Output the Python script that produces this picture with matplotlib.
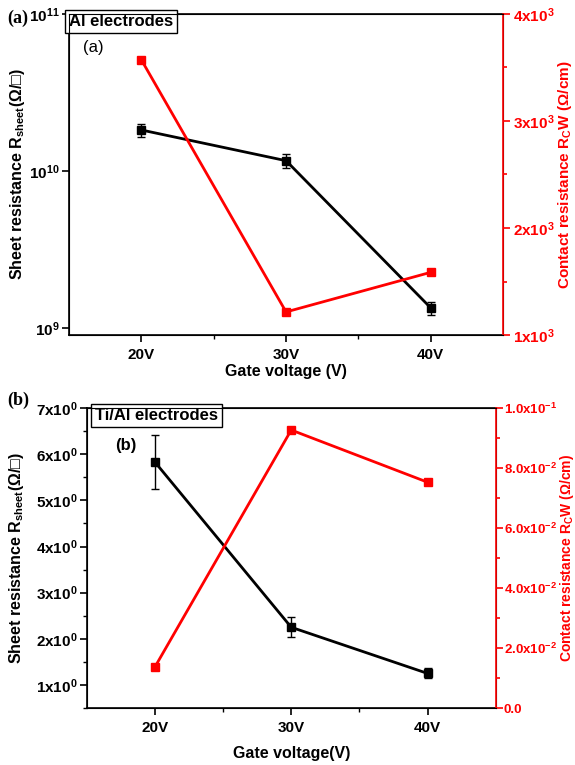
import matplotlib
matplotlib.use("Agg")
import matplotlib.pyplot as plt
from matplotlib.ticker import FixedLocator, MultipleLocator

plt.rcParams["font.family"] = ["Liberation Sans", "DejaVu Sans"]
plt.rcParams["font.weight"] = "bold"
plt.rcParams["mathtext.default"] = "regular"

# gate voltages (V)
gate_v = [20, 30, 40]
gate_labels = ["20V", "30V", "40V"]

# (a) Al electrodes
al_sheet = [1.82e10, 1.16e10, 1.34e9]
al_sheet_err = [0.18e10, 0.12e10, 0.13e9]
al_contact = [3570, 1216, 1586]

# (b) Ti/Al electrodes
tial_sheet = [5.83, 2.25, 1.25]
tial_sheet_err = [0.58, 0.22, 0.11]
tial_contact = [0.0137, 0.0927, 0.0753]

fig = plt.figure(figsize=(5.75, 7.65), dpi=100)
RED = "#ff0000"


def style_axes(ax, ax2, rsize=11, rpad=2):
    ax.set_xlim(15, 45)
    ax.set_xticks(gate_v)
    ax.set_xticklabels(gate_labels)
    ax.xaxis.set_minor_locator(FixedLocator([25, 35]))
    ax.tick_params(axis="x", which="major", direction="out", length=5, width=1.2, labelsize=11, pad=4)
    ax.tick_params(axis="x", which="minor", direction="out", length=3, width=1)
    ax.tick_params(axis="y", which="major", direction="out", length=5, width=1.2, labelsize=11, pad=2)
    ax.tick_params(axis="y", which="minor", direction="out", length=3, width=1)
    for lab in ax.get_xticklabels() + ax.get_yticklabels():
        lab.set_fontweight("bold")
    for s in ["left", "bottom", "top"]:
        ax.spines[s].set_linewidth(1.2)
    ax2.spines["right"].set_color(RED)
    ax2.spines["right"].set_linewidth(1.2)
    ax2.tick_params(axis="y", which="both", colors=RED, direction="out", width=1.2,
                    labelsize=rsize, pad=rpad)
    ax2.tick_params(axis="y", which="major", length=5)
    ax2.tick_params(axis="y", which="minor", length=3)
    for lab in ax2.get_yticklabels():
        lab.set_fontweight("bold")


# ---- panel (a) ----
ax = fig.add_axes([0.12, 0.562, 0.755, 0.42])
ax2 = ax.twinx()
ax.set_yscale("log")
ax.set_ylim(9e8, 1e11)
ax.yaxis.set_major_locator(FixedLocator([1e9, 1e10, 1e11]))
ax.yaxis.set_minor_locator(FixedLocator([]))
ax.set_yticklabels([r"$10^{9}$", r"$10^{10}$", r"$10^{11}$"])
ax.errorbar(gate_v, al_sheet, yerr=al_sheet_err, color="black", marker="s", ms=6,
            lw=2, capsize=3, elinewidth=1, zorder=3)
ax2.plot(gate_v, al_contact, color=RED, marker="s", ms=6, lw=2)
ax2.set_ylim(1000, 4000)
ax2.yaxis.set_minor_locator(MultipleLocator(500))
ax2.set_yticks([1000, 2000, 3000, 4000])
ax2.set_yticklabels([r"$1x10^{3}$", r"$2x10^{3}$", r"$3x10^{3}$", r"$4x10^{3}$"])
style_axes(ax, ax2)
ax.set_xlabel("Gate voltage (V)", fontsize=11.5, fontweight="bold", labelpad=2)
ax.set_ylabel(r"Sheet resistance R$_{sheet}$($\Omega$/□)", fontsize=11.5, fontweight="bold")
ax.yaxis.set_label_coords(-0.097, 0.5)
ax2.set_ylabel(r"Contact resistance R$_{C}$W ($\Omega$/cm)", fontsize=11, fontweight="bold",
               color=RED)
ax2.yaxis.set_label_coords(1.122, 0.5)
ax.text(0.0, 1.0, "Al electrodes", transform=ax.transAxes, fontsize=12, fontweight="bold",
        ha="left", va="top",
        bbox=dict(boxstyle="square,pad=0.25", fc="white", ec="black", lw=1))
ax.text(0.033, 0.895, "(a)", transform=ax.transAxes, fontsize=12, fontweight="normal",
        ha="left", va="center")
fig.text(0.012, 0.976, "(a)", fontsize=13, fontweight="bold", family="Liberation Serif",
         ha="left", va="center")

# ---- panel (b) ----
bx = fig.add_axes([0.151, 0.0745, 0.711, 0.392])
bx2 = bx.twinx()
bx.set_ylim(0.5, 7)
bx.yaxis.set_minor_locator(MultipleLocator(0.5))
bx.set_yticks([1, 2, 3, 4, 5, 6, 7])
bx.set_yticklabels([r"$%dx10^{0}$" % v for v in range(1, 8)])
bx.errorbar(gate_v, tial_sheet, yerr=tial_sheet_err, color="black", marker="s", ms=6,
            lw=2, capsize=3, elinewidth=1, zorder=3)
bx2.plot(gate_v, tial_contact, color=RED, marker="s", ms=6, lw=2)
bx2.set_ylim(0, 0.1)
bx2.yaxis.set_minor_locator(MultipleLocator(0.01))
bx2.set_yticks([0, 0.02, 0.04, 0.06, 0.08, 0.1])
bx2.set_yticklabels(["0.0", r"$2.0x10^{-2}$", r"$4.0x10^{-2}$", r"$6.0x10^{-2}$",
                     r"$8.0x10^{-2}$", r"$1.0x10^{-1}$"])
style_axes(bx, bx2, rsize=9.5, rpad=1)
bx.set_xlabel("Gate voltage(V)", fontsize=11.5, fontweight="bold", labelpad=8)
bx.set_ylabel(r"Sheet resistance R$_{sheet}$($\Omega$/□)", fontsize=11.5, fontweight="bold")
bx.yaxis.set_label_coords(-0.15, 0.5)
bx2.set_ylabel(r"Contact resistance R$_{C}$W ($\Omega$/cm)", fontsize=10, fontweight="bold",
               color=RED)
bx2.yaxis.set_label_coords(1.152, 0.5)
bx.text(0.02, 1.0, "Ti/Al electrodes", transform=bx.transAxes, fontsize=12, fontweight="bold",
        ha="left", va="top",
        bbox=dict(boxstyle="square,pad=0.25", fc="white", ec="black", lw=1))
bx.text(0.07, 0.875, "(b)", transform=bx.transAxes, fontsize=12, fontweight="bold",
        ha="left", va="center")
fig.text(0.013, 0.477, "(b)", fontsize=13, fontweight="bold", family="Liberation Serif",
         ha="left", va="center")

fig.savefig("out.png", dpi=100)
